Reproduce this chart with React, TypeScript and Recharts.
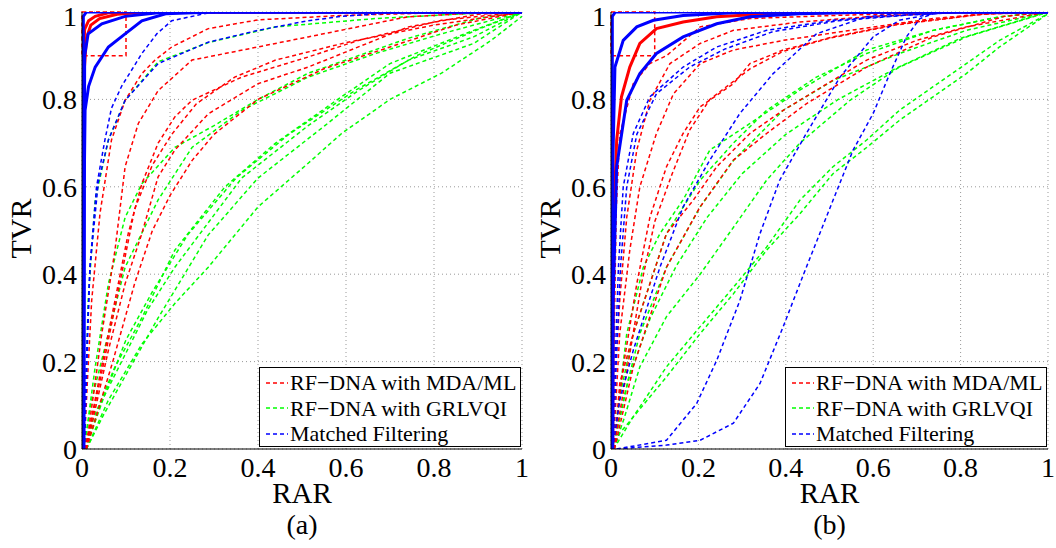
import React from "react";
import {
  LineChart,
  Line,
  XAxis,
  YAxis,
  CartesianGrid,
  ReferenceArea,
  Legend,
} from "recharts";

// ---- panel (a) curves, [RAR, TVR] pairs ----
const aGrlvqi: number[][][] = [
  [[0.005, 0], [0.014, 0.34], [0.03, 0.57], [0.06, 0.707], [0.098, 0.798], [0.173, 0.886], [0.287, 0.93], [0.44, 0.966], [0.667, 0.985], [0.85, 0.995], [1, 1]],
  [[0.005, 0], [0.03, 0.188], [0.06, 0.378], [0.098, 0.53], [0.136, 0.607], [0.211, 0.69], [0.3, 0.74], [0.4, 0.8], [0.514, 0.86], [0.742, 0.94], [0.9, 0.985], [1, 1]],
  [[0.005, 0], [0.022, 0.112], [0.06, 0.264], [0.098, 0.416], [0.173, 0.57], [0.25, 0.69], [0.363, 0.775], [0.514, 0.851], [0.667, 0.905], [0.817, 0.95], [1, 1]],
  [[0.008, 0], [0.022, 0.06], [0.075, 0.188], [0.136, 0.3], [0.211, 0.455], [0.325, 0.6], [0.44, 0.7], [0.59, 0.806], [0.7, 0.882], [0.89, 0.958], [1, 1]],
  [[0.008, 0], [0.04, 0.1], [0.1, 0.22], [0.15, 0.32], [0.211, 0.416], [0.363, 0.62], [0.514, 0.74], [0.628, 0.82], [0.742, 0.89], [0.89, 0.943], [1, 1]],
  [[0.01, 0], [0.05, 0.08], [0.1, 0.17], [0.173, 0.3], [0.287, 0.49], [0.4, 0.62], [0.552, 0.74], [0.7, 0.86], [0.89, 0.928], [1, 1]],
  [[0.01, 0], [0.06, 0.112], [0.136, 0.24], [0.211, 0.333], [0.287, 0.416], [0.4, 0.554], [0.514, 0.654], [0.59, 0.722], [0.7, 0.8], [0.817, 0.86], [0.93, 0.935], [1, 0.99]],
  [[0.008, 0], [0.05, 0.12], [0.1, 0.25], [0.16, 0.36], [0.24, 0.49], [0.35, 0.62], [0.47, 0.72], [0.62, 0.82], [0.76, 0.9], [0.9, 0.96], [1, 1]],
];

const aMdaMl: number[][][] = [
  [[0.005, 0], [0.012, 0.15], [0.022, 0.34], [0.041, 0.54], [0.067, 0.707], [0.098, 0.798], [0.136, 0.859], [0.166, 0.89], [0.204, 0.92], [0.287, 0.962], [0.4, 0.982], [0.59, 0.992], [0.8, 0.998], [1, 1]],
  [[0.005, 0], [0.014, 0.036], [0.045, 0.264], [0.075, 0.455], [0.098, 0.646], [0.128, 0.745], [0.173, 0.82], [0.25, 0.89], [0.4, 0.92], [0.514, 0.943], [0.74, 0.989], [0.9, 0.998], [1, 1]],
  [[0.008, 0], [0.037, 0.15], [0.075, 0.34], [0.105, 0.493], [0.136, 0.607], [0.173, 0.7], [0.211, 0.76], [0.25, 0.798], [0.363, 0.851], [0.514, 0.897], [0.628, 0.935], [0.817, 0.981], [1, 1]],
  [[0.01, 0], [0.06, 0.226], [0.098, 0.378], [0.136, 0.493], [0.173, 0.623], [0.211, 0.684], [0.287, 0.767], [0.4, 0.836], [0.514, 0.874], [0.742, 0.966], [0.9, 0.995], [1, 1]],
  [[0.008, 0], [0.05, 0.2], [0.09, 0.4], [0.12, 0.55], [0.16, 0.65], [0.204, 0.72], [0.26, 0.79], [0.347, 0.851], [0.44, 0.89], [0.6, 0.93], [0.8, 0.97], [1, 1]],
  [[0.01, 0], [0.07, 0.2], [0.12, 0.38], [0.16, 0.5], [0.2, 0.58], [0.25, 0.66], [0.3, 0.72], [0.4, 0.8], [0.55, 0.87], [0.7, 0.92], [0.85, 0.97], [1, 1]],
];

const aMatched: number[][][] = [
  [[0.005, 0], [0.01, 0.15], [0.013, 0.264], [0.018, 0.416], [0.033, 0.6], [0.052, 0.707], [0.067, 0.78], [0.09, 0.83], [0.136, 0.905], [0.17, 0.95], [0.204, 0.98], [0.287, 0.998], [0.4, 1], [1, 1]],
  [[0.005, 0], [0.01, 0.2], [0.018, 0.416], [0.037, 0.61], [0.06, 0.707], [0.098, 0.798], [0.173, 0.882], [0.287, 0.931], [0.4, 0.958], [0.514, 0.98], [0.59, 0.99], [0.7, 0.998], [1, 1]],
];

const aMdaMlSolid: number[][][] = [
  [[0, 0], [0.003, 0.9], [0.006, 0.96], [0.015, 0.98], [0.03, 0.99], [0.06, 0.998], [0.1, 1], [1, 1]],
  [[0, 0], [0.004, 0.85], [0.01, 0.94], [0.02, 0.97], [0.04, 0.985], [0.08, 0.995], [0.15, 1], [1, 1]],
];

const aMatchedSolid: number[][][] = [
  [[0.003, 0], [0.003, 0.99], [0.01, 1], [1, 1]],
  [[0.004, 0], [0.005, 0.6], [0.007, 0.775], [0.015, 0.83], [0.03, 0.874], [0.06, 0.92], [0.098, 0.95], [0.136, 0.98], [0.19, 0.996], [0.3, 1], [1, 1]],
  [[0.004, 0], [0.006, 0.9], [0.014, 0.95], [0.045, 0.973], [0.098, 0.99], [0.173, 0.998], [0.25, 1], [1, 1]],
];

// ---- panel (b) curves ----
const bGrlvqi: number[][][] = [
  [[0.005, 0], [0.02, 0.12], [0.051, 0.264], [0.089, 0.378], [0.127, 0.493], [0.204, 0.615], [0.28, 0.7], [0.356, 0.775], [0.47, 0.851], [0.585, 0.905], [0.737, 0.958], [0.889, 0.989], [1, 1]],
  [[0.005, 0], [0.03, 0.12], [0.066, 0.264], [0.127, 0.416], [0.204, 0.554], [0.28, 0.66], [0.394, 0.775], [0.508, 0.843], [0.66, 0.905], [0.813, 0.958], [1, 1]],
  [[0.006, 0], [0.03, 0.07], [0.066, 0.188], [0.127, 0.303], [0.204, 0.4], [0.28, 0.507], [0.356, 0.615], [0.432, 0.7], [0.547, 0.798], [0.66, 0.874], [0.813, 0.943], [0.966, 0.989], [1, 1]],
  [[0.006, 0], [0.051, 0.074], [0.127, 0.188], [0.204, 0.28], [0.28, 0.37], [0.356, 0.462], [0.432, 0.569], [0.508, 0.646], [0.585, 0.707], [0.66, 0.775], [0.737, 0.829], [0.813, 0.882], [0.889, 0.935], [1, 0.996]],
  [[0.006, 0], [0.02, 0.036], [0.127, 0.165], [0.204, 0.264], [0.28, 0.355], [0.356, 0.455], [0.432, 0.538], [0.508, 0.63], [0.585, 0.69], [0.66, 0.752], [0.737, 0.806], [0.813, 0.859], [0.889, 0.92], [1, 0.996]],
  [[0.005, 0], [0.036, 0.264], [0.074, 0.416], [0.112, 0.493], [0.165, 0.57], [0.226, 0.684], [0.318, 0.745], [0.432, 0.821], [0.585, 0.913], [0.737, 0.958], [0.889, 0.989], [1, 1]],
  [[0.005, 0], [0.04, 0.16], [0.09, 0.3], [0.15, 0.42], [0.22, 0.53], [0.3, 0.63], [0.4, 0.72], [0.52, 0.8], [0.65, 0.87], [0.8, 0.94], [0.95, 0.985], [1, 1]],
];

const bMdaMl: number[][][] = [
  [[0.004, 0], [0.008, 0.3], [0.012, 0.55], [0.02, 0.72], [0.051, 0.836], [0.089, 0.882], [0.127, 0.9], [0.204, 0.966], [0.318, 0.985], [0.508, 0.992], [0.8, 1], [1, 1]],
  [[0.004, 0], [0.009, 0.15], [0.02, 0.34], [0.036, 0.53], [0.059, 0.684], [0.089, 0.798], [0.135, 0.882], [0.204, 0.928], [0.28, 0.958], [0.432, 0.977], [0.585, 0.989], [0.8, 1], [1, 1]],
  [[0.005, 0], [0.02, 0.264], [0.043, 0.455], [0.066, 0.6], [0.104, 0.722], [0.143, 0.813], [0.204, 0.882], [0.28, 0.913], [0.394, 0.935], [0.547, 0.958], [0.737, 0.985], [0.9, 1], [1, 1]],
  [[0.006, 0], [0.028, 0.188], [0.059, 0.378], [0.089, 0.53], [0.127, 0.646], [0.165, 0.722], [0.204, 0.783], [0.28, 0.836], [0.318, 0.882], [0.394, 0.913], [0.508, 0.943], [0.66, 0.973], [0.85, 0.995], [1, 1]],
  [[0.006, 0], [0.04, 0.2], [0.07, 0.38], [0.1, 0.52], [0.14, 0.63], [0.18, 0.73], [0.226, 0.8], [0.318, 0.87], [0.394, 0.91], [0.5, 0.94], [0.65, 0.97], [0.85, 0.995], [1, 1]],
  [[0.008, 0], [0.02, 0.15], [0.051, 0.264], [0.089, 0.378], [0.127, 0.493], [0.188, 0.569], [0.242, 0.646], [0.318, 0.722], [0.394, 0.775], [0.47, 0.821], [0.585, 0.89], [0.699, 0.935], [0.813, 0.966], [1, 1]],
  [[0.008, 0], [0.051, 0.188], [0.089, 0.303], [0.127, 0.416], [0.204, 0.554], [0.28, 0.661], [0.356, 0.722], [0.447, 0.79], [0.585, 0.874], [0.737, 0.943], [0.9, 0.99], [1, 1]],
];

const bMatched: number[][][] = [
  [[0.004, 0], [0.009, 0.188], [0.017, 0.416], [0.028, 0.6], [0.051, 0.722], [0.089, 0.806], [0.165, 0.874], [0.242, 0.92], [0.356, 0.958], [0.508, 0.981], [0.66, 0.992], [0.8, 1], [1, 1]],
  [[0.005, 0], [0.012, 0.2], [0.022, 0.42], [0.036, 0.6], [0.059, 0.72], [0.104, 0.813], [0.18, 0.874], [0.26, 0.915], [0.37, 0.955], [0.52, 0.98], [0.68, 0.993], [0.8, 1], [1, 1]],
  [[0.004, 0], [0.02, 0.112], [0.051, 0.226], [0.112, 0.416], [0.165, 0.554], [0.226, 0.661], [0.295, 0.768], [0.371, 0.859], [0.47, 0.95], [0.585, 0.989], [0.7, 1], [1, 1]],
  [[0.013, 0], [0.127, 0.02], [0.196, 0.104], [0.242, 0.203], [0.295, 0.34], [0.341, 0.493], [0.386, 0.615], [0.447, 0.722], [0.524, 0.851], [0.6, 0.943], [0.66, 0.981], [0.737, 0.996], [0.8, 1], [1, 1]],
  [[0.013, 0], [0.127, 0.009], [0.204, 0.02], [0.28, 0.059], [0.341, 0.15], [0.394, 0.28], [0.447, 0.416], [0.508, 0.569], [0.554, 0.684], [0.6, 0.768], [0.638, 0.859], [0.676, 0.943], [0.707, 0.985], [0.737, 0.996], [0.8, 1], [1, 1]],
];

const bMdaMlSolid: number[][][] = [
  [[0.004, 0], [0.005, 0.493], [0.013, 0.707], [0.024, 0.806], [0.043, 0.874], [0.066, 0.928], [0.104, 0.962], [0.165, 0.977], [0.242, 0.989], [0.356, 0.996], [0.508, 0.998], [0.7, 1], [1, 1]],
];

const bMatchedSolid: number[][][] = [
  [[0.003, 0], [0.003, 0.99], [0.01, 1], [1, 1]],
  [[0.003, 0], [0.004, 0.646], [0.009, 0.874], [0.028, 0.935], [0.059, 0.966], [0.097, 0.981], [0.165, 0.992], [0.28, 0.998], [0.4, 1], [1, 1]],
  [[0.004, 0], [0.005, 0.34], [0.013, 0.646], [0.036, 0.798], [0.066, 0.859], [0.104, 0.905], [0.165, 0.943], [0.242, 0.973], [0.318, 0.989], [0.432, 0.996], [0.6, 1], [1, 1]],
];

const ticks = [0, 0.2, 0.4, 0.6, 0.8, 1];
const zoomBox = { x1: 0, x2: 0.1, y1: 0.9, y2: 1 };

const legendItems = [
  { name: "RF\u2212DNA with MDA/ML", color: "#ff0000" },
  { name: "RF\u2212DNA with GRLVQI", color: "#00ff00" },
  { name: "Matched Filtering", color: "#0000ff" },
];

const FONT = "'Liberation Serif', 'Times New Roman', serif";
const RED = "#ff0000";
const GREEN = "#00ff00";
const BLUE = "#0000ff";

const toPts = (arr: number[][]) => arr.map(([x, y]) => ({ x, y }));

function LegendBox() {
  return (
    <div
      style={{
        border: "1.5px solid #000",
        background: "#fff",
        boxSizing: "border-box",
        width: 262,
        height: 80,
        padding: "2px 0 0 5px",
        fontFamily: FONT,
        fontSize: 22,
        lineHeight: "25.5px",
        color: "#000",
        textAlign: "left",
      }}
    >
      {legendItems.map((it) => (
        <div key={it.name} style={{ display: "flex", alignItems: "center", whiteSpace: "nowrap" }}>
          <svg width={24} height={10} style={{ marginRight: 1 }}>
            <line x1={1} y1={5} x2={23} y2={5} stroke={it.color} strokeWidth={1.5} strokeDasharray="4 3" />
          </svg>
          <span>{it.name}</span>
        </div>
      ))}
    </div>
  );
}

type PanelProps = {
  left: number;
  width: number;
  caption: string;
  grlvqi: number[][][];
  mdaml: number[][][];
  matched: number[][][];
  mdamlSolid: number[][][];
  matchedSolid: number[][][];
};

function Panel(p: PanelProps) {
  const plotRight = p.width - 8;
  const dashed = (curves: number[][][], color: string, key: string) =>
    curves.map((c, i) => (
      <Line
        key={key + i}
        data={toPts(c)}
        dataKey="y"
        type="linear"
        stroke={color}
        strokeWidth={1.5}
        strokeDasharray="4 3"
        dot={false}
        activeDot={false}
        legendType="none"
        isAnimationActive={false}
      />
    ));
  const solid = (curves: number[][][], color: string, key: string) =>
    curves.map((c, i) => (
      <Line
        key={key + i}
        data={toPts(c)}
        dataKey="y"
        type="linear"
        stroke={color}
        strokeWidth={3}
        dot={false}
        activeDot={false}
        legendType="none"
        isAnimationActive={false}
      />
    ));

  return (
    <div style={{ position: "absolute", left: p.left, top: 0, width: p.width, height: 548 }}>
      <LineChart width={p.width} height={548} margin={{ top: 12, right: 8, bottom: 19, left: 0 }}>
        <CartesianGrid stroke="#999" strokeDasharray="1 3" />
        <XAxis
          dataKey="x"
          type="number"
          domain={[0, 1]}
          ticks={ticks}
          allowDataOverflow
          height={80}
          tickSize={0}
          tickMargin={8}
          tickLine={false}
          stroke="#000"
          tick={{ fill: "#000", fontSize: 28, fontFamily: FONT }}
          label={{ value: "RAR", position: "center", dy: 4, fill: "#000", fontSize: 29, fontFamily: FONT }}
        />
        <YAxis
          type="number"
          domain={[0, 1]}
          ticks={ticks}
          allowDataOverflow
          width={82}
          tickSize={0}
          tickMargin={5}
          tickLine={false}
          stroke="#000"
          tick={{ fill: "#000", fontSize: 28, fontFamily: FONT }}
          label={{ value: "TVR", angle: -90, position: "center", dx: -21, dy: -2, fill: "#000", fontSize: 30, fontFamily: FONT }}
        />
        {dashed(p.grlvqi, GREEN, "g")}
        {dashed(p.mdaml, RED, "r")}
        {dashed(p.matched, BLUE, "b")}
        <ReferenceArea
          {...zoomBox}
          fill="none"
          stroke={RED}
          strokeWidth={1.5}
          strokeDasharray="4 3"
          ifOverflow="visible"
        />
        {solid(p.mdamlSolid, RED, "rs")}
        {solid(p.matchedSolid, BLUE, "bs")}
        <Legend
          layout="horizontal"
          align="center"
          verticalAlign="middle"
          content={() => <LegendBox />}
          wrapperStyle={{ left: plotRight - 263, top: 367, width: 262, height: 80 }}
        />
      </LineChart>
      <div
        style={{
          position: "absolute",
          left: 82,
          width: plotRight - 82,
          top: 509,
          textAlign: "center",
          fontFamily: FONT,
          fontSize: 28,
          lineHeight: "32px",
          color: "#000",
        }}
      >
        {p.caption}
      </div>
    </div>
  );
}

export default function App() {
  return (
    <div style={{ position: "absolute", left: 0, top: 0, width: 1056, height: 548, background: "#fff" }}>
      <Panel
        left={0}
        width={530}
        caption="(a)"
        grlvqi={aGrlvqi}
        mdaml={aMdaMl}
        matched={aMatched}
        mdamlSolid={aMdaMlSolid}
        matchedSolid={aMatchedSolid}
      />
      <Panel
        left={529}
        width={527}
        caption="(b)"
        grlvqi={bGrlvqi}
        mdaml={bMdaMl}
        matched={bMatched}
        mdamlSolid={bMdaMlSolid}
        matchedSolid={bMatchedSolid}
      />
    </div>
  );
}
